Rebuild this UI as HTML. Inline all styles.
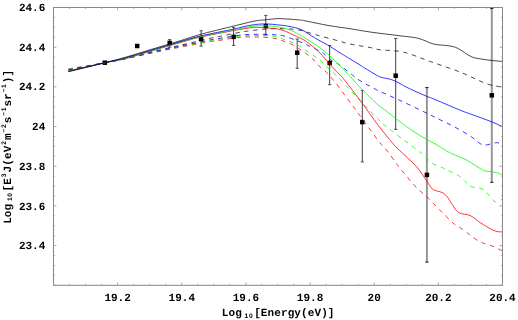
<!DOCTYPE html>
<html><head><meta charset="utf-8"><title>plot</title>
<style>
html,body{margin:0;padding:0;background:#fff;}
svg text.sc{font-family:"Liberation Sans",sans-serif;font-weight:bold;}
svg text{font-family:"Liberation Mono",monospace;font-weight:bold;font-size:11px;fill:#000;text-rendering:geometricPrecision;}
body{width:518px;height:320px;position:relative;overflow:hidden;font-family:"Liberation Mono",monospace;font-weight:bold;color:#000;}
</style></head><body>
<svg width="518" height="320" viewBox="0 0 518 320" style="position:absolute;left:0;top:0;will-change:transform">
<line x1="169.70" y1="39.60" x2="169.70" y2="47.20" stroke="#2a2a2a" stroke-width="0.9"/>
<line x1="168.10" y1="39.60" x2="171.30" y2="39.60" stroke="#2a2a2a" stroke-width="0.8"/>
<line x1="168.10" y1="47.20" x2="171.30" y2="47.20" stroke="#2a2a2a" stroke-width="0.8"/>
<line x1="201.10" y1="30.70" x2="201.10" y2="46.10" stroke="#2a2a2a" stroke-width="0.9"/>
<line x1="199.50" y1="30.70" x2="202.70" y2="30.70" stroke="#2a2a2a" stroke-width="0.8"/>
<line x1="199.50" y1="46.10" x2="202.70" y2="46.10" stroke="#2a2a2a" stroke-width="0.8"/>
<line x1="233.60" y1="27.30" x2="233.60" y2="45.40" stroke="#2a2a2a" stroke-width="0.9"/>
<line x1="232.00" y1="27.30" x2="235.20" y2="27.30" stroke="#2a2a2a" stroke-width="0.8"/>
<line x1="232.00" y1="45.40" x2="235.20" y2="45.40" stroke="#2a2a2a" stroke-width="0.8"/>
<line x1="265.80" y1="15.40" x2="265.80" y2="35.00" stroke="#2a2a2a" stroke-width="0.9"/>
<line x1="264.20" y1="15.40" x2="267.40" y2="15.40" stroke="#2a2a2a" stroke-width="0.8"/>
<line x1="264.20" y1="35.00" x2="267.40" y2="35.00" stroke="#2a2a2a" stroke-width="0.8"/>
<line x1="297.20" y1="39.00" x2="297.20" y2="68.30" stroke="#2a2a2a" stroke-width="0.9"/>
<line x1="295.60" y1="39.00" x2="298.80" y2="39.00" stroke="#2a2a2a" stroke-width="0.8"/>
<line x1="295.60" y1="68.30" x2="298.80" y2="68.30" stroke="#2a2a2a" stroke-width="0.8"/>
<line x1="329.65" y1="45.60" x2="329.65" y2="84.70" stroke="#2a2a2a" stroke-width="0.9"/>
<line x1="328.05" y1="45.60" x2="331.25" y2="45.60" stroke="#2a2a2a" stroke-width="0.8"/>
<line x1="328.05" y1="84.70" x2="331.25" y2="84.70" stroke="#2a2a2a" stroke-width="0.8"/>
<line x1="362.30" y1="90.40" x2="362.30" y2="161.90" stroke="#2a2a2a" stroke-width="0.9"/>
<line x1="360.70" y1="90.40" x2="363.90" y2="90.40" stroke="#2a2a2a" stroke-width="0.8"/>
<line x1="360.70" y1="161.90" x2="363.90" y2="161.90" stroke="#2a2a2a" stroke-width="0.8"/>
<line x1="395.70" y1="38.50" x2="395.70" y2="129.40" stroke="#2a2a2a" stroke-width="0.9"/>
<line x1="394.10" y1="38.50" x2="397.30" y2="38.50" stroke="#2a2a2a" stroke-width="0.8"/>
<line x1="394.10" y1="129.40" x2="397.30" y2="129.40" stroke="#2a2a2a" stroke-width="0.8"/>
<line x1="426.90" y1="87.60" x2="426.90" y2="262.10" stroke="#969696" stroke-width="2"/>
<line x1="425.30" y1="87.60" x2="428.50" y2="87.60" stroke="#111" stroke-width="1.0"/>
<line x1="425.30" y1="262.10" x2="428.50" y2="262.10" stroke="#111" stroke-width="1.0"/>
<line x1="491.80" y1="8.40" x2="491.80" y2="182.30" stroke="#969696" stroke-width="2"/>
<line x1="490.20" y1="8.40" x2="493.40" y2="8.40" stroke="#111" stroke-width="1.0"/>
<line x1="490.20" y1="182.30" x2="493.40" y2="182.30" stroke="#111" stroke-width="1.0"/>
<rect x="102.55" y="60.45" width="4.50" height="4.50" fill="#000"/>
<rect x="134.95" y="43.75" width="4.50" height="4.50" fill="#000"/>
<rect x="167.45" y="40.75" width="4.50" height="4.50" fill="#000"/>
<rect x="198.85" y="36.85" width="4.50" height="4.50" fill="#000"/>
<rect x="231.35" y="34.65" width="4.50" height="4.50" fill="#000"/>
<rect x="263.55" y="23.85" width="4.50" height="4.50" fill="#000"/>
<rect x="294.95" y="50.45" width="4.50" height="4.50" fill="#000"/>
<rect x="327.40" y="60.75" width="4.50" height="4.50" fill="#000"/>
<rect x="360.05" y="119.85" width="4.50" height="4.50" fill="#000"/>
<rect x="393.45" y="73.45" width="4.50" height="4.50" fill="#000"/>
<rect x="424.65" y="172.65" width="4.50" height="4.50" fill="#000"/>
<rect x="489.55" y="93.05" width="4.50" height="4.50" fill="#000"/>
<path d="M68.40,70.10 C74.50,68.87 95.57,64.62 105.00,62.70 C114.43,60.78 117.50,60.33 125.00,58.60 C132.50,56.87 142.50,54.13 150.00,52.30 C157.50,50.47 164.17,48.95 170.00,47.60 C175.83,46.25 178.33,45.75 185.00,44.20 C191.67,42.65 204.17,39.62 210.00,38.30 C215.83,36.98 215.00,37.30 220.00,36.30 C225.00,35.30 235.67,33.13 240.00,32.30 C244.33,31.47 241.83,31.83 246.00,31.30 C250.17,30.77 259.33,29.55 265.00,29.10 C270.67,28.65 274.37,28.45 280.00,28.60 C285.63,28.75 292.73,28.93 298.80,30.00 C304.87,31.07 310.33,33.33 316.40,35.00 C322.47,36.67 329.60,38.50 335.20,40.00 C340.80,41.50 344.20,42.75 350.00,44.00 C355.80,45.25 365.00,46.53 370.00,47.50 C375.00,48.47 374.50,49.05 380.00,49.80 C385.50,50.55 394.58,50.03 403.00,52.00 C411.42,53.97 420.85,58.20 430.50,61.60 C440.15,65.00 451.43,68.67 460.90,72.40 C470.37,76.13 480.35,81.57 487.30,84.00 C494.25,86.43 500.05,86.50 502.60,87.00" fill="none" stroke="#000000" stroke-width="0.72" stroke-dasharray="4.5 4.5"/>
<path d="M68.40,69.00 C74.50,67.95 95.57,64.38 105.00,62.70 C114.43,61.03 117.50,60.50 125.00,58.95 C132.50,57.40 142.50,55.02 150.00,53.40 C157.50,51.77 164.17,50.38 170.00,49.20 C175.83,48.02 178.33,47.57 185.00,46.30 C191.67,45.03 204.17,42.60 210.00,41.60 C215.83,40.60 215.00,41.03 220.00,40.30 C225.00,39.57 234.17,37.75 240.00,37.20 C245.83,36.65 250.83,36.98 255.00,37.00 C259.17,37.02 261.67,37.05 265.00,37.30 C268.33,37.55 272.08,37.93 275.00,38.50 C277.92,39.07 279.88,39.82 282.50,40.70 C285.12,41.58 287.98,42.48 290.70,43.80 C293.42,45.12 296.30,47.03 298.80,48.60 C301.30,50.17 303.40,51.48 305.70,53.20 C308.00,54.92 310.40,56.80 312.60,58.90 C314.80,61.00 315.92,62.87 318.90,65.80 C321.88,68.73 325.58,70.80 330.50,76.50 C335.42,82.20 343.20,93.08 348.40,100.00 C353.60,106.92 356.70,111.20 361.70,118.00 C366.70,124.80 374.13,135.30 378.40,140.80 C382.67,146.30 384.30,147.22 387.30,151.00 C390.30,154.78 394.18,160.50 396.40,163.50 C398.62,166.50 397.28,165.00 400.60,169.00 C403.92,173.00 411.90,182.87 416.30,187.50 C420.70,192.13 423.08,193.05 427.00,196.80 C430.92,200.55 435.45,205.62 439.80,210.00 C444.15,214.38 449.93,220.30 453.10,223.10 C456.27,225.90 456.18,224.98 458.80,226.80 C461.42,228.62 466.47,232.25 468.80,234.00 C471.13,235.75 470.68,235.88 472.80,237.30 C474.92,238.72 478.28,241.05 481.50,242.50 C484.72,243.95 488.58,244.60 492.10,246.00 C495.62,247.40 500.85,250.08 502.60,250.90" fill="none" stroke="#ff0000" stroke-width="0.8" stroke-dasharray="4.5 4.5"/>
<path d="M68.40,69.30 C74.50,68.20 95.57,64.44 105.00,62.70 C114.43,60.96 117.50,60.45 125.00,58.85 C132.50,57.25 142.50,54.78 150.00,53.10 C157.50,51.42 164.17,50.03 170.00,48.80 C175.83,47.57 178.33,47.03 185.00,45.70 C191.67,44.37 204.17,41.87 210.00,40.80 C215.83,39.73 215.00,40.08 220.00,39.30 C225.00,38.52 234.17,36.73 240.00,36.10 C245.83,35.47 250.83,35.58 255.00,35.50 C259.17,35.42 261.67,35.43 265.00,35.60 C268.33,35.77 272.08,35.97 275.00,36.50 C277.92,37.03 279.88,37.90 282.50,38.80 C285.12,39.70 287.98,40.75 290.70,41.90 C293.42,43.05 296.18,44.23 298.80,45.70 C301.42,47.17 303.88,49.03 306.40,50.70 C308.92,52.37 311.50,54.03 313.90,55.70 C316.30,57.37 318.62,58.82 320.80,60.70 C322.98,62.58 324.72,64.80 327.00,67.00 C329.28,69.20 332.20,71.73 334.50,73.90 C336.80,76.07 336.13,75.13 340.80,80.00 C345.47,84.87 356.62,96.95 362.50,103.10 C368.38,109.25 372.45,113.25 376.10,116.90 C379.75,120.55 381.15,122.18 384.40,125.00 C387.65,127.82 390.08,129.60 395.60,133.80 C401.12,138.00 412.60,146.42 417.50,150.20 C422.40,153.98 422.58,154.33 425.00,156.50 C427.42,158.67 429.13,161.33 432.00,163.20 C434.87,165.07 439.53,166.48 442.20,167.70 C444.87,168.92 445.27,169.18 448.00,170.50 C450.73,171.82 455.53,173.57 458.60,175.60 C461.67,177.63 464.32,180.87 466.40,182.70 C468.48,184.53 468.50,185.57 471.10,186.60 C473.70,187.63 479.00,187.47 482.00,188.90 C485.00,190.33 486.88,193.05 489.10,195.20 C491.32,197.35 493.05,201.17 495.30,201.80 C497.55,202.43 501.38,199.47 502.60,199.00" fill="none" stroke="#00ff00" stroke-width="0.8" stroke-dasharray="4.5 4.5"/>
<path d="M68.40,69.70 C74.50,68.53 95.57,64.53 105.00,62.70 C114.43,60.88 117.50,60.40 125.00,58.75 C132.50,57.10 142.50,54.54 150.00,52.80 C157.50,51.06 164.17,49.58 170.00,48.30 C175.83,47.02 178.33,46.50 185.00,45.10 C191.67,43.70 204.17,41.03 210.00,39.90 C215.83,38.77 215.00,39.10 220.00,38.30 C225.00,37.50 235.67,35.72 240.00,35.10 C244.33,34.48 243.50,34.73 246.00,34.60 C248.50,34.47 251.83,34.35 255.00,34.30 C258.17,34.25 261.67,34.22 265.00,34.30 C268.33,34.38 272.08,34.58 275.00,34.80 C277.92,35.02 279.78,34.98 282.50,35.60 C285.22,36.22 288.37,37.45 291.30,38.50 C294.23,39.55 297.38,40.77 300.10,41.90 C302.82,43.03 305.08,44.15 307.60,45.30 C310.12,46.45 312.58,47.48 315.20,48.80 C317.82,50.12 320.80,51.42 323.30,53.20 C325.80,54.98 327.60,57.62 330.20,59.50 C332.80,61.38 335.22,61.92 338.90,64.50 C342.58,67.08 348.95,72.42 352.30,75.00 C355.65,77.58 354.95,77.53 359.00,80.00 C363.05,82.47 369.77,86.40 376.60,89.80 C383.43,93.20 391.63,96.50 400.00,100.40 C408.37,104.30 420.03,109.93 426.80,113.20 C433.57,116.47 435.68,117.57 440.60,120.00 C445.52,122.43 451.08,124.93 456.30,127.80 C461.52,130.67 467.87,134.53 471.90,137.20 C475.93,139.87 478.15,142.50 480.50,143.80 C482.85,145.10 483.40,145.18 486.00,145.00 C488.60,144.82 493.33,142.83 496.10,142.70 C498.87,142.57 501.52,143.95 502.60,144.20" fill="none" stroke="#0000ff" stroke-width="0.8" stroke-dasharray="4.5 4.5"/>
<path d="M68.40,70.90 C74.50,69.53 95.57,64.72 105.00,62.70 C114.43,60.68 117.50,60.68 125.00,58.80 C132.50,56.92 142.50,53.62 150.00,51.40 C157.50,49.18 165.00,46.95 170.00,45.50 C175.00,44.05 175.00,44.08 180.00,42.70 C185.00,41.32 191.08,39.22 200.00,37.20 C208.92,35.18 226.83,31.88 233.50,30.60 C240.17,29.32 236.92,30.02 240.00,29.50 C243.08,28.98 249.00,27.86 252.00,27.50 C255.00,27.14 255.00,27.25 258.00,27.35 C261.00,27.45 266.02,27.66 270.00,28.10 C273.98,28.54 277.52,28.63 281.90,30.00 C286.28,31.37 292.22,34.38 296.30,36.30 C300.38,38.22 302.63,38.88 306.40,41.50 C310.17,44.12 315.05,48.30 318.90,52.00 C322.75,55.70 326.78,60.68 329.50,63.70 C332.22,66.72 332.80,67.50 335.20,70.10 C337.60,72.70 339.35,73.72 343.90,79.30 C348.45,84.88 356.82,95.98 362.50,103.60 C368.18,111.22 373.00,118.42 378.00,125.00 C383.00,131.58 388.98,138.93 392.50,143.10 C396.02,147.27 395.13,146.12 399.10,150.00 C403.07,153.88 411.67,161.18 416.30,166.40 C420.93,171.62 424.37,177.70 426.90,181.30 C429.43,184.90 430.23,186.52 431.50,188.00 C432.77,189.48 432.50,189.33 434.50,190.20 C436.50,191.07 441.08,191.70 443.50,193.20 C445.92,194.70 447.65,197.47 449.00,199.20 C450.35,200.93 450.00,201.38 451.60,203.60 C453.20,205.82 455.48,210.50 458.60,212.50 C461.72,214.50 466.78,213.97 470.30,215.60 C473.82,217.23 476.57,220.22 479.70,222.30 C482.83,224.38 486.37,226.60 489.10,228.10 C491.83,229.60 493.85,230.65 496.10,231.30 C498.35,231.95 501.52,231.88 502.60,232.00" fill="none" stroke="#ff0000" stroke-width="0.8"/>
<path d="M68.40,71.10 C74.50,69.70 95.57,64.82 105.00,62.70 C114.43,60.58 117.50,60.35 125.00,58.40 C132.50,56.45 142.50,53.22 150.00,51.00 C157.50,48.78 165.00,46.57 170.00,45.10 C175.00,43.63 175.00,43.62 180.00,42.20 C185.00,40.78 191.08,38.65 200.00,36.60 C208.92,34.55 226.83,31.25 233.50,29.90 C240.17,28.55 236.92,29.08 240.00,28.50 C243.08,27.92 248.33,26.87 252.00,26.40 C255.67,25.93 258.17,25.68 262.00,25.70 C265.83,25.72 270.33,25.78 275.00,26.50 C279.67,27.22 284.77,27.93 290.00,30.00 C295.23,32.07 301.58,36.08 306.40,38.90 C311.22,41.72 315.13,44.18 318.90,46.90 C322.67,49.62 325.48,52.05 329.00,55.20 C332.52,58.35 336.77,62.57 340.00,65.80 C343.23,69.03 345.90,71.93 348.40,74.60 C350.90,77.27 352.65,79.27 355.00,81.80 C357.35,84.33 358.90,86.17 362.50,89.80 C366.10,93.43 372.93,100.28 376.60,103.60 C380.27,106.92 381.98,107.75 384.50,109.70 C387.02,111.65 389.12,113.28 391.70,115.30 C394.28,117.32 396.48,119.18 400.00,121.80 C403.52,124.42 408.63,128.23 412.80,131.00 C416.97,133.77 421.30,136.25 425.00,138.40 C428.70,140.55 431.63,141.97 435.00,143.90 C438.37,145.83 442.43,148.38 445.20,150.00 C447.97,151.62 447.93,151.88 451.60,153.60 C455.27,155.32 462.00,157.57 467.20,160.30 C472.40,163.03 478.50,168.07 482.80,170.00 C487.10,171.93 490.42,171.38 493.00,171.90 C495.58,172.42 496.72,172.55 498.30,173.10 C499.88,173.65 501.80,174.85 502.50,175.20" fill="none" stroke="#00ff00" stroke-width="0.8"/>
<path d="M68.40,71.40 C74.50,69.95 95.57,64.93 105.00,62.70 C114.43,60.47 117.50,60.02 125.00,58.00 C132.50,55.98 142.50,52.82 150.00,50.60 C157.50,48.38 165.00,46.18 170.00,44.70 C175.00,43.22 175.00,43.13 180.00,41.70 C185.00,40.27 191.08,38.20 200.00,36.10 C208.92,34.00 226.83,30.52 233.50,29.10 C240.17,27.68 236.92,28.28 240.00,27.60 C243.08,26.92 247.83,25.62 252.00,25.00 C256.17,24.38 260.33,23.88 265.00,23.90 C269.67,23.92 275.83,24.65 280.00,25.10 C284.17,25.55 286.33,25.78 290.00,26.60 C293.67,27.42 297.80,28.07 302.00,30.00 C306.20,31.93 310.92,35.70 315.20,38.20 C319.48,40.70 323.57,42.57 327.70,45.00 C331.83,47.43 334.62,49.47 340.00,52.80 C345.38,56.13 355.83,62.43 360.00,65.00 C364.17,67.57 362.23,66.50 365.00,68.20 C367.77,69.90 373.87,73.68 376.60,75.20 C379.33,76.72 379.13,76.62 381.40,77.30 C383.67,77.98 387.90,78.67 390.20,79.30 C392.50,79.93 393.57,80.40 395.20,81.10 C396.83,81.80 398.37,82.62 400.00,83.50 C401.63,84.38 402.50,85.12 405.00,86.40 C407.50,87.68 411.37,89.55 415.00,91.20 C418.63,92.85 423.30,94.85 426.80,96.30 C430.30,97.75 430.32,97.53 436.00,99.90 C441.68,102.27 455.05,108.12 460.90,110.50 C466.75,112.88 466.02,112.33 471.10,114.20 C476.18,116.07 486.15,119.62 491.40,121.70 C496.65,123.78 500.73,125.87 502.60,126.70" fill="none" stroke="#0000ff" stroke-width="0.8"/>
<path d="M68.40,71.70 C74.50,70.20 95.57,65.08 105.00,62.70 C114.43,60.32 117.50,59.55 125.00,57.40 C132.50,55.25 142.50,52.07 150.00,49.80 C157.50,47.53 165.00,45.30 170.00,43.80 C175.00,42.30 175.00,42.35 180.00,40.80 C185.00,39.25 194.47,36.12 200.00,34.50 C205.53,32.88 209.87,31.95 213.20,31.10 C216.53,30.25 216.62,30.23 220.00,29.40 C223.38,28.57 230.17,26.92 233.50,26.10 C236.83,25.28 236.92,25.25 240.00,24.50 C243.08,23.75 248.75,22.30 252.00,21.60 C255.25,20.90 257.33,20.58 259.50,20.30 C261.67,20.02 261.98,20.18 265.00,19.90 C268.02,19.62 273.43,18.72 277.60,18.60 C281.77,18.48 286.27,18.97 290.00,19.20 C293.73,19.43 297.50,19.73 300.00,20.00 C302.50,20.27 300.17,19.87 305.00,20.80 C309.83,21.73 321.50,24.28 329.00,25.60 C336.50,26.92 343.17,27.63 350.00,28.70 C356.83,29.77 361.67,30.82 370.00,32.00 C378.33,33.18 391.95,34.75 400.00,35.80 C408.05,36.85 412.72,36.93 418.30,38.30 C423.88,39.67 428.43,42.75 433.50,44.00 C438.57,45.25 444.63,45.07 448.70,45.80 C452.77,46.53 454.17,46.60 457.90,48.40 C461.63,50.20 467.22,54.83 471.10,56.60 C474.98,58.37 477.82,58.37 481.20,59.00 C484.58,59.63 487.83,60.00 491.40,60.40 C494.97,60.80 500.73,61.23 502.60,61.40" fill="none" stroke="#000000" stroke-width="0.72"/>
<rect x="53.50" y="7.50" width="449.00" height="277.80" fill="none" stroke="#878787" stroke-width="1"/>
<path d="M53.50,285.30 v-2.90 M53.50,7.50 v2.90 M69.54,285.30 v-1.40 M69.54,7.50 v1.40 M85.57,285.30 v-1.40 M85.57,7.50 v1.40 M101.61,285.30 v-1.40 M101.61,7.50 v1.40 M117.64,285.30 v-2.90 M117.64,7.50 v2.90 M133.68,285.30 v-1.40 M133.68,7.50 v1.40 M149.71,285.30 v-1.40 M149.71,7.50 v1.40 M165.75,285.30 v-1.40 M165.75,7.50 v1.40 M181.79,285.30 v-2.90 M181.79,7.50 v2.90 M197.82,285.30 v-1.40 M197.82,7.50 v1.40 M213.86,285.30 v-1.40 M213.86,7.50 v1.40 M229.89,285.30 v-1.40 M229.89,7.50 v1.40 M245.93,285.30 v-2.90 M245.93,7.50 v2.90 M261.96,285.30 v-1.40 M261.96,7.50 v1.40 M278.00,285.30 v-1.40 M278.00,7.50 v1.40 M294.04,285.30 v-1.40 M294.04,7.50 v1.40 M310.07,285.30 v-2.90 M310.07,7.50 v2.90 M326.11,285.30 v-1.40 M326.11,7.50 v1.40 M342.14,285.30 v-1.40 M342.14,7.50 v1.40 M358.18,285.30 v-1.40 M358.18,7.50 v1.40 M374.21,285.30 v-2.90 M374.21,7.50 v2.90 M390.25,285.30 v-1.40 M390.25,7.50 v1.40 M406.29,285.30 v-1.40 M406.29,7.50 v1.40 M422.32,285.30 v-1.40 M422.32,7.50 v1.40 M438.36,285.30 v-2.90 M438.36,7.50 v2.90 M454.39,285.30 v-1.40 M454.39,7.50 v1.40 M470.43,285.30 v-1.40 M470.43,7.50 v1.40 M486.46,285.30 v-1.40 M486.46,7.50 v1.40 M502.50,285.30 v-2.90 M502.50,7.50 v2.90 M53.50,285.30 h2.90 M502.50,285.30 h-2.90 M53.50,275.38 h1.40 M502.50,275.38 h-1.40 M53.50,265.46 h1.40 M502.50,265.46 h-1.40 M53.50,255.54 h1.40 M502.50,255.54 h-1.40 M53.50,245.61 h2.90 M502.50,245.61 h-2.90 M53.50,235.69 h1.40 M502.50,235.69 h-1.40 M53.50,225.77 h1.40 M502.50,225.77 h-1.40 M53.50,215.85 h1.40 M502.50,215.85 h-1.40 M53.50,205.93 h2.90 M502.50,205.93 h-2.90 M53.50,196.01 h1.40 M502.50,196.01 h-1.40 M53.50,186.09 h1.40 M502.50,186.09 h-1.40 M53.50,176.16 h1.40 M502.50,176.16 h-1.40 M53.50,166.24 h2.90 M502.50,166.24 h-2.90 M53.50,156.32 h1.40 M502.50,156.32 h-1.40 M53.50,146.40 h1.40 M502.50,146.40 h-1.40 M53.50,136.48 h1.40 M502.50,136.48 h-1.40 M53.50,126.56 h2.90 M502.50,126.56 h-2.90 M53.50,116.64 h1.40 M502.50,116.64 h-1.40 M53.50,106.71 h1.40 M502.50,106.71 h-1.40 M53.50,96.79 h1.40 M502.50,96.79 h-1.40 M53.50,86.87 h2.90 M502.50,86.87 h-2.90 M53.50,76.95 h1.40 M502.50,76.95 h-1.40 M53.50,67.03 h1.40 M502.50,67.03 h-1.40 M53.50,57.11 h1.40 M502.50,57.11 h-1.40 M53.50,47.19 h2.90 M502.50,47.19 h-2.90 M53.50,37.26 h1.40 M502.50,37.26 h-1.40 M53.50,27.34 h1.40 M502.50,27.34 h-1.40 M53.50,17.42 h1.40 M502.50,17.42 h-1.40 M53.50,7.50 h2.90 M502.50,7.50 h-2.90" fill="none" stroke="#909090" stroke-width="0.8"/>
<text x="117.64" y="301.00" text-anchor="middle">19.2</text>
<text x="181.79" y="301.00" text-anchor="middle">19.4</text>
<text x="245.93" y="301.00" text-anchor="middle">19.6</text>
<text x="310.07" y="301.00" text-anchor="middle">19.8</text>
<text x="374.21" y="301.00" text-anchor="middle">20</text>
<text x="438.36" y="301.00" text-anchor="middle">20.2</text>
<text x="502.50" y="301.00" text-anchor="middle">20.4</text>
<text x="45.30" y="11.10" text-anchor="end">24.6</text>
<text x="45.30" y="50.79" text-anchor="end">24.4</text>
<text x="45.30" y="90.47" text-anchor="end">24.2</text>
<text x="45.30" y="130.16" text-anchor="end">24</text>
<text x="45.30" y="169.84" text-anchor="end">23.8</text>
<text x="45.30" y="209.53" text-anchor="end">23.6</text>
<text x="45.30" y="249.21" text-anchor="end">23.4</text>
<g transform="translate(221.80,316.00)"><text x="3.35" y="0" text-anchor="middle">L</text><text x="10.05" y="0" text-anchor="middle">o</text><text x="16.75" y="0" text-anchor="middle">g</text><text x="24.65" y="1.60" text-anchor="middle" class="sc" style="font-size:6.6px">1</text><text x="28.95" y="1.60" text-anchor="middle" class="sc" style="font-size:6.6px">0</text><text x="35.65" y="0" text-anchor="middle">[</text><text x="42.35" y="0" text-anchor="middle">E</text><text x="49.05" y="0" text-anchor="middle">n</text><text x="55.75" y="0" text-anchor="middle">e</text><text x="62.45" y="0" text-anchor="middle">r</text><text x="69.15" y="0" text-anchor="middle">g</text><text x="75.85" y="0" text-anchor="middle">y</text><text x="82.55" y="0" text-anchor="middle">(</text><text x="89.25" y="0" text-anchor="middle">e</text><text x="95.95" y="0" text-anchor="middle">V</text><text x="102.65" y="0" text-anchor="middle">)</text><text x="109.35" y="0" text-anchor="middle">]</text></g>
<g transform="translate(10.70,223.90) rotate(-90)"><text x="3.35" y="0" text-anchor="middle">L</text><text x="10.05" y="0" text-anchor="middle">o</text><text x="16.75" y="0" text-anchor="middle">g</text><text x="24.65" y="1.60" text-anchor="middle" class="sc" style="font-size:6.6px">1</text><text x="28.95" y="1.60" text-anchor="middle" class="sc" style="font-size:6.6px">0</text><text x="35.65" y="0" text-anchor="middle">[</text><text x="42.35" y="0" text-anchor="middle">E</text><text x="48.55" y="-4.90" text-anchor="middle" class="sc" style="font-size:6.6px">3</text><text x="54.75" y="0" text-anchor="middle">J</text><text x="61.45" y="0" text-anchor="middle">(</text><text x="68.15" y="0" text-anchor="middle">e</text><text x="74.85" y="0" text-anchor="middle">V</text><text x="81.05" y="-4.90" text-anchor="middle" class="sc" style="font-size:6.6px">2</text><text x="87.25" y="0" text-anchor="middle">m</text><text x="93.45" y="-4.90" text-anchor="middle" class="sc" style="font-size:6.6px">−</text><text x="97.75" y="-4.90" text-anchor="middle" class="sc" style="font-size:6.6px">2</text><text x="103.95" y="0" text-anchor="middle">s</text><text x="110.15" y="-4.90" text-anchor="middle" class="sc" style="font-size:6.6px">−</text><text x="114.45" y="-4.90" text-anchor="middle" class="sc" style="font-size:6.6px">1</text><text x="120.65" y="0" text-anchor="middle">s</text><text x="127.35" y="0" text-anchor="middle">r</text><text x="133.55" y="-4.90" text-anchor="middle" class="sc" style="font-size:6.6px">−</text><text x="137.85" y="-4.90" text-anchor="middle" class="sc" style="font-size:6.6px">1</text><text x="144.05" y="0" text-anchor="middle">)</text><text x="150.75" y="0" text-anchor="middle">]</text></g>
</svg>
</body></html>
